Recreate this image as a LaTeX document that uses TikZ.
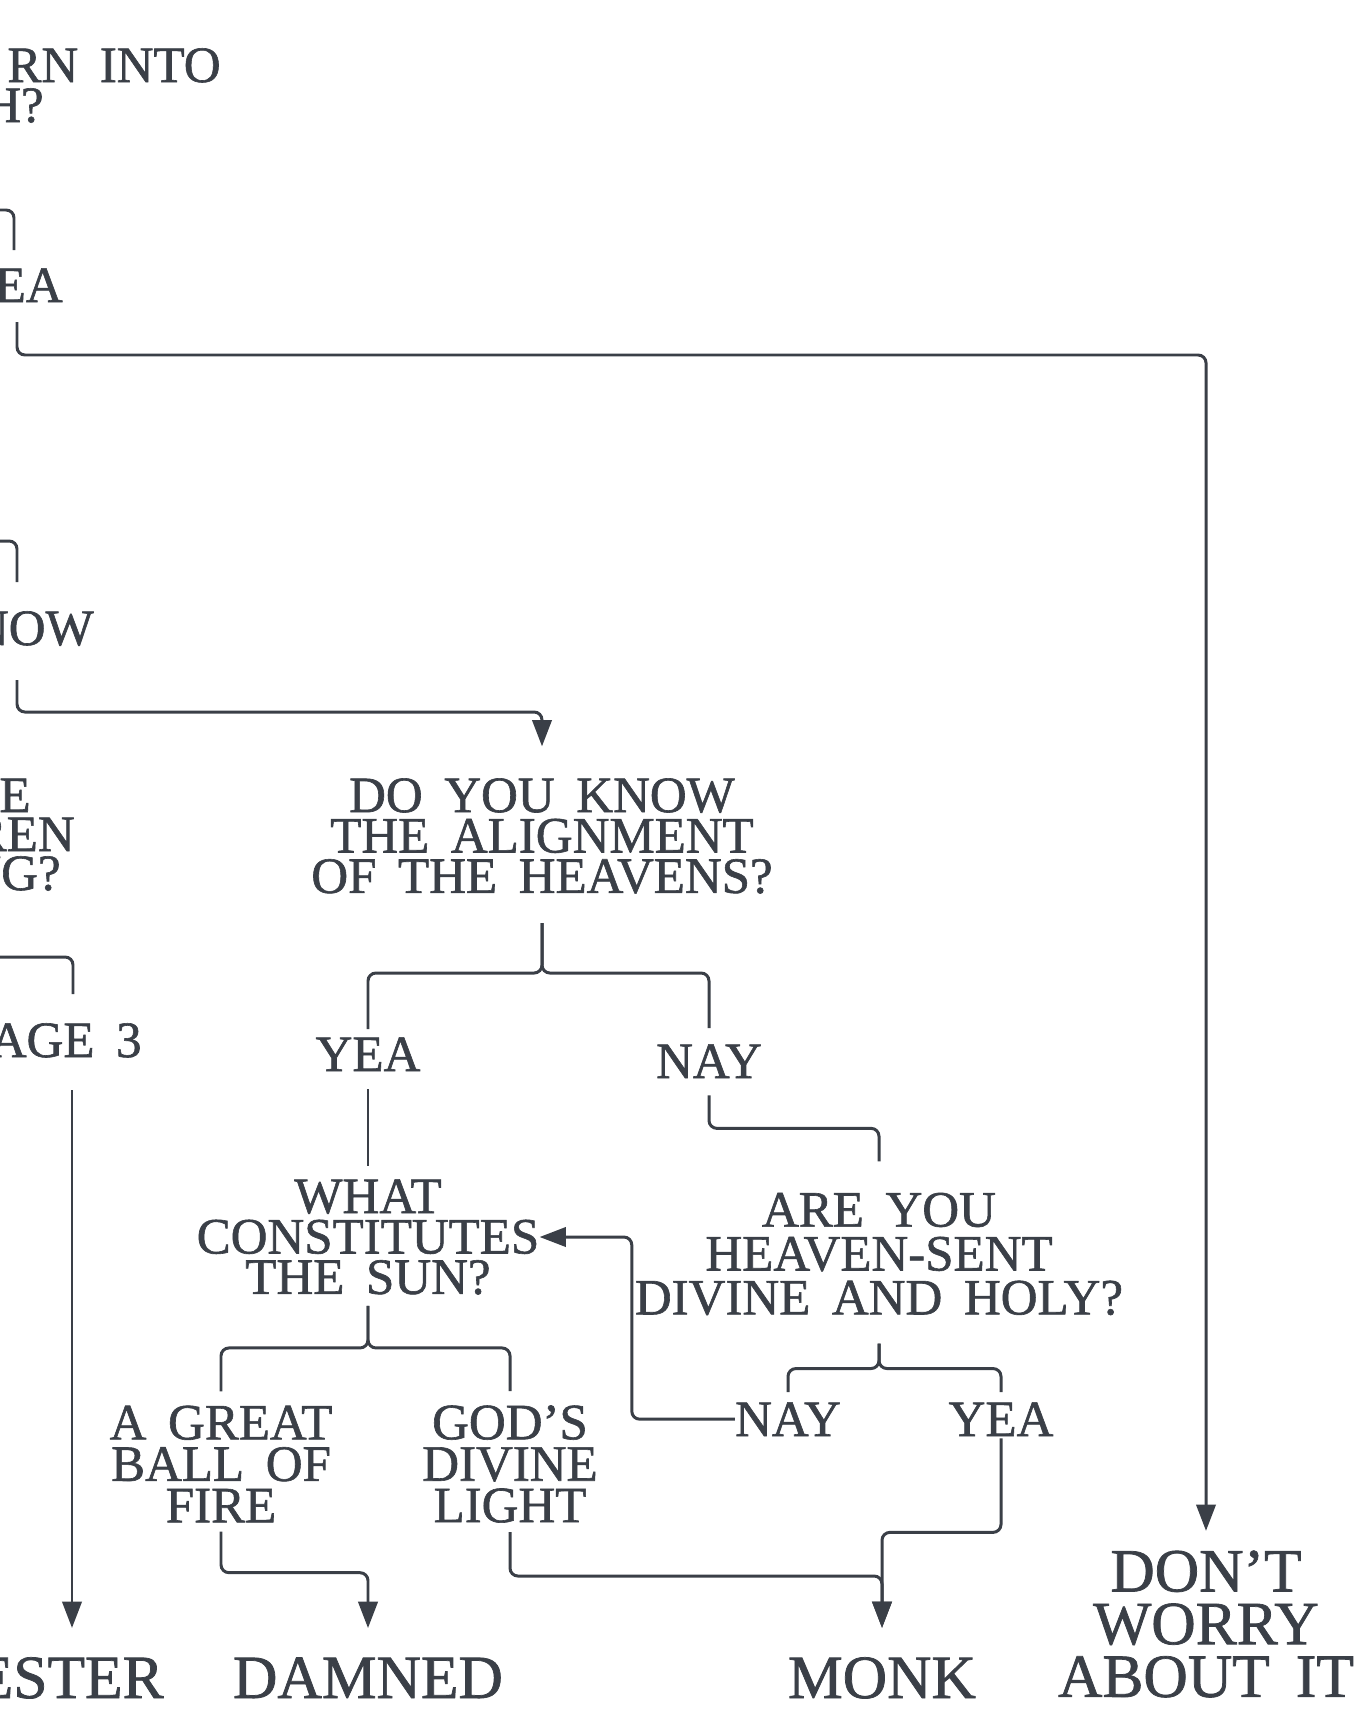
\documentclass[tikz,border=0pt]{standalone}
\usepackage{fontspec}
\setmainfont{Liberation Serif}[WordSpace=1.7, FakeBold=1.2]
\usetikzlibrary{arrows.meta, calc}
\definecolor{ink}{HTML}{3A3F47}

\tikzset{
  txt/.style={text=ink, inner sep=0pt, align=center, font=\fontsize{29}{23}\selectfont},
  widetxt/.style={txt, font=\fontsize{29}{25}\selectfont},
  bigtxt/.style={text=ink, inner sep=0pt, align=center, font=\fontsize{35}{30}\selectfont},
  link/.style={draw=ink, line width=1.7pt, rounded corners=4.5pt},
  arr/.style={link, -{Triangle[length=15pt, width=11pt]}}
}

\begin{document}
\begin{tikzpicture}[x=0.02cm, y=-0.02cm]

\useasboundingbox (0,0) rectangle (1366,1734);
\clip (0,0) rectangle (1366,1734);

% ================================================================
% Texts cut by the left edge
% ================================================================
\node[txt, anchor=base east] (born1) at (221,82) {RN INTO};
\node[txt, anchor=base east] (born2) at (44,122) {H?};
\node[txt, anchor=base east] (yea0) at (63,302) {EA};
\node[txt, anchor=base east] (know0) at (94,645) {NOW};
\node[txt, anchor=base east] (chil1) at (31,812) {GE};
\node[txt, anchor=base east] (chil2) at (75,851) {REN};
\node[txt, anchor=base east] (chil3) at (61,890) {NG?};
\node[txt, anchor=base east] (page3) at (142,1057) {AGE 3};
\node[bigtxt, anchor=base east] (jester) at (164,1698) {ESTER};

% ================================================================
% Questions and answers
% ================================================================
\node[txt] (align) at (542,836) {DO YOU KNOW\\THE ALIGNMENT\\OF THE HEAVENS?};
\node[txt, anchor=base] (yea1) at (368,1071) {YEA};
\node[txt, anchor=base] (nay1) at (709,1078) {NAY};

\node[txt] (sun) at (368,1237) {WHAT\\CONSTITUTES\\THE SUN?};
\node[widetxt] (holy) at (879,1254) {ARE YOU\\HEAVEN-SENT\\DIVINE AND HOLY?};

\node[txt, anchor=base] (nay2) at (788,1436) {NAY};
\node[txt, anchor=base] (yea2) at (1001,1436) {YEA};

\node[txt, font=\fontsize{29}{23.6}\selectfont] (fire) at (221,1464) {A GREAT\\BALL OF\\FIRE};
\node[txt, font=\fontsize{29}{23.6}\selectfont] (light) at (510,1464) {GOD'S\\DIVINE\\LIGHT};

% ================================================================
% Endings
% ================================================================
\node[bigtxt, anchor=base] (damned) at (368,1698) {DAMNED};
\node[bigtxt, anchor=base] (monk) at (882,1698) {MONK};
\node[bigtxt] (dont) at (1206,1624) {DON'T\\WORRY\\ABOUT IT};

% ================================================================
% Connectors
% ================================================================
\coordinate (cutA) at (0,210);
\coordinate (yeaTop) at (14,250);
\coordinate (yeaBot) at (17,322);
\coordinate (cutB) at (0,541);
\coordinate (knowTop) at (17,582);
\coordinate (knowBot) at (17,680);
\coordinate (cutC) at (0,957);
\coordinate (pageTop) at (73,994);
\coordinate (pageBot) at (72,1090);

\draw[link] (cutA) -| (yeaTop);
\draw[arr, shorten >=11pt] (yeaBot) -- ++(0,33) -| (dont.north);
\draw[link] (cutB) -| (knowTop);
\draw[arr, shorten >=18pt] (knowBot) -- ++(0,32) -| (align.north);
\draw[link] (cutC) -| (pageTop);
\draw[arr, shorten >=16.5pt] (pageBot) -- (pageBot |- jester.north);

% fork below the heavens
\draw[link] ($(align.south)+(0,29)$) -- ++(0,50) -| ($(yea1.north)+(0,-8)$);
\draw[link] ($(align.south)+(0,29)$) -- ++(0,50) -| ($(nay1.north)+(0,-16)$);

\draw[link] ($(yea1.south)+(0,18)$) -- ($(sun.north)+(0,-13)$);
\draw[link] ($(nay1.south)+(0,17)$) -- ++(0,33) -| ($(holy.north)+(0,-31)$);

% fork below the sun
\draw[link] ($(sun.south)+(0,11)$) -- ++(0,42) -| ($(fire.north)+(0,-14)$);
\draw[link] ($(sun.south)+(0,11)$) -- ++(0,42) -| ($(light.north)+(0,-14)$);

% fork below holy
\draw[link] ($(holy.south)+(0,28)$) -- ++(0,25) -| ($(nay2.north)+(0,-10)$);
\draw[link] ($(holy.south)+(0,28)$) -- ++(0,25) -| ($(yea2.north)+(0,-10)$);

% back to the sun
\draw[arr] (nay2.west) -- ++(-103,0) |- (sun.east);

% down to the endings
\draw[arr, shorten >=16.5pt] ($(yea2.south)+(0,2)$) -- ++(0,94) -| (monk.north);
\draw[arr, shorten >=16.5pt] ($(fire.south)+(0,9)$) -- ++(0,41) -| (damned.north);
\draw[arr, shorten >=16.5pt] ($(light.south)+(0,9)$) -- ++(0,44) -| (monk.north);

\end{tikzpicture}
\end{document}
